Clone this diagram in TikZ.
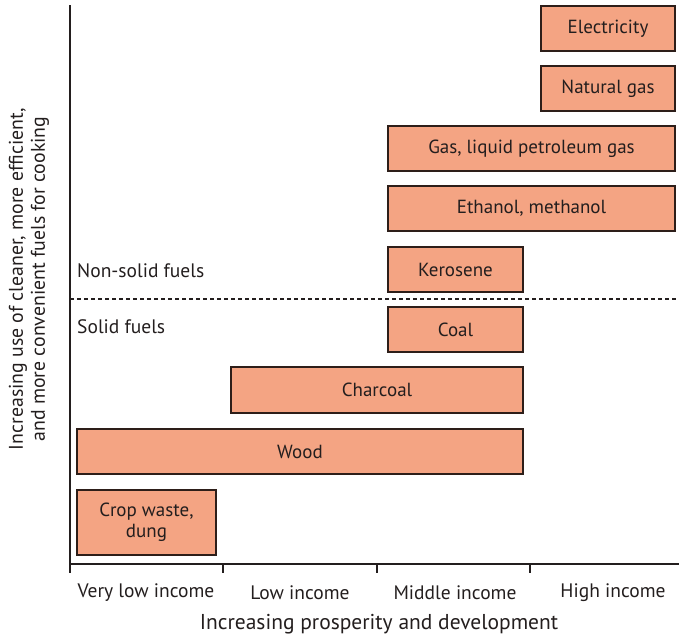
\documentclass[tikz,border=0pt]{standalone}
\usepackage{fontspec}
\setmainfont{PT Sans}
\definecolor{boxfill}{RGB}{244,164,131}
\definecolor{boxline}{RGB}{45,30,25}
\definecolor{txt}{RGB}{35,30,30}

\begin{document}
\begin{tikzpicture}[x=1pt, y=-1pt,
    fuel/.style={draw=boxline, fill=boxfill, line width=1.8pt, inner sep=0pt,
      align=center, text=txt, font=\fontsize{19}{21}\selectfont},
    lab/.style={text=txt, font=\fontsize{19.5}{22}\selectfont, inner sep=0pt},
    axis/.style={line width=1.6pt, draw=txt}]
    \useasboundingbox (0,0) rectangle (679,641);
    % fuel boxes: name / left / top / right / bottom / text
    \foreach \fuelname/\xa/\ya/\xb/\yb/\txt in {
      elec/541/6/675/51/Electricity,
      natgas/541/66/675/111/Natural gas,
      lpg/388/126/675/171/{Gas, liquid petroleum gas},
      ethanol/388/186/675/231/{Ethanol, methanol},
      kero/388/247/523/292/Kerosene,
      coal/388/307/523/352/Coal,
      charcoal/231/367/523/413/Charcoal,
      wood/77/429/523/474/Wood,
      crop/77/490/216/555/{Crop waste,\\ dung}} {
      \node[fuel, minimum width=\xb-\xa, minimum height=\yb-\ya]
        (\fuelname) at ({(\xa+\xb)/2}, {(\ya+\yb)/2}) {\txt};
    }
    % axes
    \coordinate (top) at (70,5);
    \coordinate (orig) at (70,564);
    \coordinate (right) at (679,564);
    \draw[axis] (top) -- (70,573);
    \draw[axis] (orig) -- (right);
    \foreach \tx in {223, 377, 530} {
      \draw[axis] (\tx,564) -- (\tx,573);
    }
    \draw[line width=1.2pt, dash pattern=on 4pt off 3pt, draw=txt] (70,299) -- (679,299);
    \node[lab, anchor=west] (nonsolid) at (77,271) {Non-solid fuels};
    \node[lab, anchor=west] (solid) at (77,327) {Solid fuels};
    % income groups
    \foreach [count=\i] \grp/\gx in {Very low income/146, Low income/300, Middle income/455, High income/613} {
      \node[lab] (inc\i) at (\gx,593) {\grp};
    }
    \node[lab, font=\fontsize{21.5}{24}\selectfont] (xlabel) at (379,624) {Increasing prosperity and development};
    \node[lab, rotate=90, align=center, font=\fontsize{19.8}{22}\selectfont] (ylabel) at (29,279)
      {Increasing use of cleaner, more efficient,\\ and more convenient fuels for cooking};
  \end{tikzpicture}
\end{document}
